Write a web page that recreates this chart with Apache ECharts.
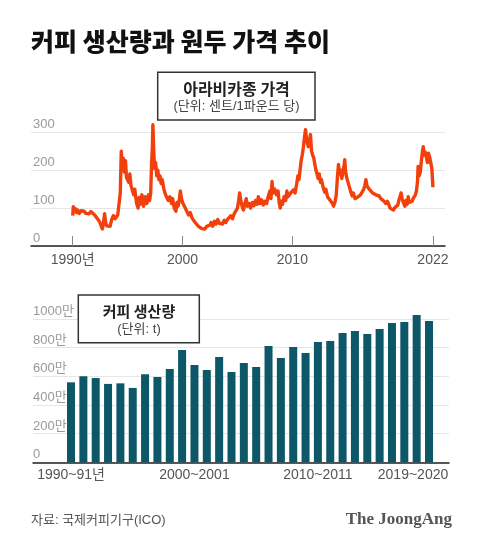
<!DOCTYPE html>
<html>
<head>
<meta charset="utf-8">
<script src="https://cdn.jsdelivr.net/npm/echarts@6/dist/echarts.min.js"></script>
<style>
html,body{margin:0;padding:0;background:#fff;}
#c{width:480px;height:547px;}
</style>
</head>
<body>
<div id="c"></div>
<script>
// ---- Arabica price (cents per pound) ----
const priceX = [
1990.00,1990.05,1990.15,1990.25,1990.35,1990.45,1990.6,1990.75,1990.9,1991.05,1991.2,1991.35,1991.5,1991.65,1991.8,
1992.0,1992.15,1992.3,1992.45,1992.6,1992.7,1992.8,1992.9,1993.0,1993.1,1993.25,1993.4,1993.55,1993.7,1993.85,
1994.0,1994.1,1994.25,1994.33,1994.42,1994.5,1994.6,1994.7,1994.8,1994.9,
1995.0,1995.1,1995.2,1995.3,1995.4,1995.55,1995.65,1995.8,1995.95,
1996.05,1996.15,1996.3,1996.45,1996.6,1996.75,1996.9,
1997.0,1997.1,1997.18,1997.25,1997.3,1997.38,1997.45,1997.55,1997.65,1997.75,1997.85,1997.95,
1998.05,1998.15,1998.3,1998.45,1998.6,1998.7,1998.85,
1999.0,1999.1,1999.25,1999.4,1999.5,1999.6,1999.72,1999.8,1999.9,
2000.0,2000.1,2000.25,2000.4,2000.55,2000.7,2000.85,
2001.0,2001.15,2001.3,2001.45,2001.6,2001.75,2001.9,
2002.05,2002.2,2002.35,2002.5,2002.6,2002.75,2002.9,
2003.05,2003.2,2003.35,2003.5,2003.65,2003.8,2003.95,
2004.1,2004.25,2004.4,2004.55,2004.7,2004.85,
2005.0,2005.1,2005.2,2005.3,2005.45,2005.55,2005.7,2005.8,2005.9,
2006.05,2006.2,2006.35,2006.5,2006.65,2006.8,2006.9,
2007.05,2007.2,2007.35,2007.5,2007.65,2007.8,2007.95,
2008.05,2008.15,2008.25,2008.4,2008.55,2008.7,2008.8,2008.9,
2009.0,2009.1,2009.25,2009.4,2009.5,2009.6,2009.75,2009.85,
2010.0,2010.1,2010.25,2010.4,2010.5,2010.6,2010.7,2010.8,2010.9,
2011.0,2011.1,2011.2,2011.3,2011.45,2011.55,2011.65,2011.75,2011.85,2011.95,
2012.05,2012.15,2012.25,2012.35,2012.45,2012.55,2012.65,2012.8,2012.95,
2013.05,2013.2,2013.35,2013.5,2013.65,2013.75,2013.9,
2014.0,2014.1,2014.2,2014.3,2014.4,2014.5,2014.6,2014.7,2014.77,2014.85,2014.95,
2015.05,2015.15,2015.25,2015.35,2015.45,2015.55,2015.7,2015.8,2015.9,
2016.05,2016.2,2016.35,2016.5,2016.6,2016.7,2016.8,2016.9,
2017.0,2017.15,2017.3,2017.45,2017.6,2017.75,2017.9,
2018.05,2018.2,2018.35,2018.5,2018.65,2018.8,2018.9,
2019.05,2019.2,2019.35,2019.5,2019.6,2019.7,2019.8,2019.9,
2020.0,2020.1,2020.25,2020.35,2020.45,2020.55,2020.65,2020.8,2020.9,
2021.0,2021.1,2021.2,2021.3,2021.4,2021.45,2021.55,2021.65,2021.75,2021.85,2021.92,
2022.0,2022.1,2022.2,2022.3,2022.4,2022.5,2022.6,2022.7,2022.8
];
const priceY = [
80,104,92,98,88,95,86,93,88,92,86,90,85,91,86,
82,76,72,64,52,45,60,85,62,53,56,52,70,80,72,
68,82,78,140,250,210,232,195,225,180,
185,168,190,160,150,135,150,115,100,
128,110,135,105,130,112,135,
120,140,215,260,320,250,205,220,185,200,175,185,
165,175,150,135,140,120,130,
112,125,100,92,115,105,125,145,125,
115,120,100,95,82,88,75,
68,62,58,52,55,46,50,
45,52,48,55,62,52,65,
58,70,60,64,58,68,62,
70,66,80,72,85,80,
100,118,140,120,102,95,115,125,105,
112,100,115,106,120,110,130,
112,122,108,118,112,130,145,
125,170,140,150,135,145,115,100,
118,110,130,120,145,130,125,140,
135,148,140,165,185,175,200,225,240,
260,285,307,280,262,275,294,250,240,232,
215,200,190,178,190,168,175,155,142,
150,130,135,118,112,105,118,
135,180,215,190,200,178,195,210,228,195,180,
175,160,150,140,132,140,125,120,128,
125,135,142,150,160,175,158,162,
150,155,140,145,135,130,132,
125,122,118,112,118,108,100,
104,95,102,97,108,120,130,140,
125,115,105,120,110,130,115,112,118,
125,130,135,145,170,210,185,195,225,250,262,
240,248,235,220,245,235,240,205,155
];
const priceTickYears = [1990, 2000, 2010, 2022.8];
const priceTickLabels = ['1990년', '2000', '2010', '2022'];

// ---- Coffee production (unit: 만 t), crop years ----
const cropYears = ['1990~91','1991~92','1992~93','1993~94','1994~95','1995~96','1996~97','1997~98','1998~99','1999~2000',
'2000~01','2001~02','2002~03','2003~04','2004~05','2005~06','2006~07','2007~08','2008~09','2009~10',
'2010~11','2011~12','2012~13','2013~14','2014~15','2015~16','2016~17','2017~18','2018~19','2019~20'];
const production = [558,600,588,547,551,519,614,595,651,784,
679,644,735,630,693,665,812,728,805,763,
840,847,902,916,895,930,972,979,1028,986];
const prodTickIdx = [0, 10, 20, 29];
const prodTickLabels = ['1990~91년', '2000~2001', '2010~2011', '2019~2020'];

const FONT = "'Liberation Sans','Noto Sans CJK KR',sans-serif";
const KFONT = "'Noto Sans CJK KR','Liberation Sans',sans-serif";

const chart = echarts.init(document.getElementById('c'), null, {renderer: 'canvas'});
const option = {
  backgroundColor: '#fff',
  animation: false,
  grid: [
    {left: 31, right: 35, top: 132.3, bottom: 301},
    {left: 33, right: 31, top: 319, bottom: 84.7}
  ],
  xAxis: [
    {
      type: 'value', gridIndex: 0, min: 1986.2, max: 2023.9,
      axisLine: {show: true, lineStyle: {color: '#222', width: 1.5}},
      axisTick: {show: true, inside: true, length: 10, customValues: priceTickYears, lineStyle: {color: '#888', width: 1}},
      axisLabel: {
        show: true, customValues: priceTickYears, margin: 7,
        fontFamily: FONT, fontSize: 14, color: '#555',
        formatter: v => { const i = priceTickYears.findIndex(t => Math.abs(t - v) < 0.01); return i >= 0 ? priceTickLabels[i] : ''; }
      },
      splitLine: {show: false}
    },
    {
      type: 'value', gridIndex: 1, min: -3.08, max: 30.62,
      axisLine: {show: true, lineStyle: {color: '#222', width: 1.5}},
      axisTick: {show: false},
      axisLabel: {
        show: true, customValues: prodTickIdx, margin: 6,
        fontFamily: FONT, fontSize: 14, color: '#555',
        formatter: v => {
          const i = prodTickIdx.indexOf(Math.round(v));
          if (i < 0) return '';
          return i === prodTickIdx.length - 1 ? '{s|' + prodTickLabels[i] + '}' : prodTickLabels[i];
        },
        rich: {s: {fontFamily: FONT, fontSize: 14, color: '#555', padding: [0, 32, 0, 0]}}
      },
      splitLine: {show: false}
    }
  ],
  yAxis: [
    {
      type: 'value', gridIndex: 0, min: 0, max: 300, interval: 100,
      axisLine: {show: false}, axisTick: {show: false},
      axisLabel: {inside: true, margin: 2, verticalAlign: 'bottom', padding: [0, 0, 1, 0],
        fontFamily: FONT, fontSize: 13, color: '#999'},
      splitLine: {show: true, lineStyle: {color: '#e6e6e6', width: 1}}
    },
    {
      type: 'value', gridIndex: 1, min: 0, max: 1000, interval: 200,
      axisLine: {show: false}, axisTick: {show: false},
      axisLabel: {inside: true, margin: 0, verticalAlign: 'bottom', padding: [0, 0, 1, 0],
        fontFamily: FONT, fontSize: 13, color: '#999',
        formatter: v => v === 0 ? '0' : v + '만'},
      splitLine: {show: true, lineStyle: {color: '#e6e6e6', width: 1}}
    }
  ],
  series: [
    {
      type: 'line', xAxisIndex: 0, yAxisIndex: 0, clip: false,
      data: priceX.map((x, i) => [x, priceY[i]]),
      symbol: 'none', lineStyle: {color: '#f2400d', width: 3.4, join: 'round'}
    },
    {
      type: 'bar', xAxisIndex: 1, yAxisIndex: 1, clip: false, barWidth: 8,
      data: production.map((v, i) => [i, v]),
      itemStyle: {color: '#0c5768'}
    }
  ],
  graphic: [
    {type: 'text', left: 31, top: 29, style: {text: '커피 생산량과 원두 가격 추이', fontFamily: KFONT, fontSize: 25, fontWeight: 900, fill: '#111'}},
    {type: 'rect', shape: {x: 157.7, y: 72.3, width: 157.3, height: 47.7}, style: {fill: '#fff', stroke: '#333', lineWidth: 1.5}, z: 10},
    {type: 'text', x: 236.5, y: 88.5, style: {text: '아라비카종 가격', fontFamily: KFONT, fontSize: 16, fontWeight: 'bold', fill: '#222', align: 'center', verticalAlign: 'middle'}, z: 11},
    {type: 'text', x: 236.5, y: 106.5, style: {text: '(단위: 센트/1파운드 당)', fontFamily: FONT, fontSize: 13, fill: '#444', align: 'center', verticalAlign: 'middle'}, z: 11},
    {type: 'rect', shape: {x: 78.3, y: 295, width: 121, height: 47.7}, style: {fill: '#fff', stroke: '#333', lineWidth: 1.5}, z: 10},
    {type: 'text', x: 139, y: 311.5, style: {text: '커피 생산량', fontFamily: KFONT, fontSize: 15, fontWeight: 'bold', fill: '#222', align: 'center', verticalAlign: 'middle'}, z: 11},
    {type: 'text', x: 139, y: 329.5, style: {text: '(단위: t)', fontFamily: FONT, fontSize: 13, fill: '#444', align: 'center', verticalAlign: 'middle'}, z: 11},
    {type: 'text', x: 31, y: 520, style: {text: '자료: 국제커피기구(ICO)', fontFamily: FONT, fontSize: 13, fill: '#555', verticalAlign: 'middle'}},
    {type: 'text', x: 452, y: 520, style: {text: 'The JoongAng', fontFamily: "'Liberation Serif','DejaVu Serif',serif", fontSize: 17, fontWeight: 'bold', fill: '#555', align: 'right', verticalAlign: 'middle'}}
  ]
};
chart.setOption(option);
</script>
</body>
</html>
